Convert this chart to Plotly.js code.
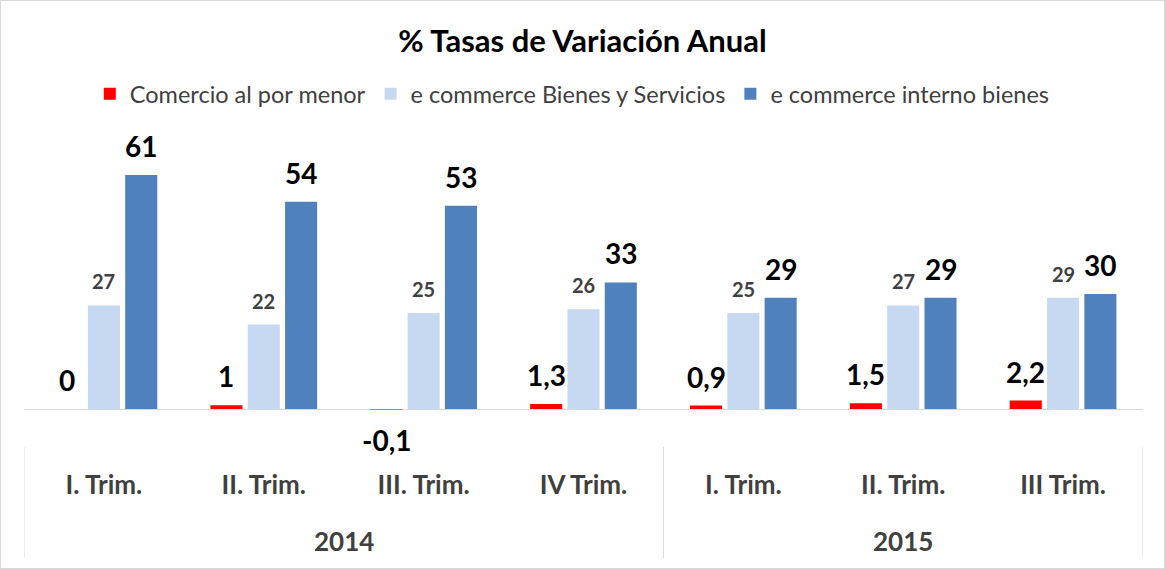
<!DOCTYPE html>
<html><head><meta charset="utf-8">
<script src="https://cdn.plot.ly/plotly-3.0.1.min.js"></script>
<style>html,body{margin:0;padding:0;background:#fff}#chart{width:1163px;height:567px;border:1px solid #d9d9d9}</style>
</head><body><div id="chart"></div>
<script>
const years = ['2014','2014','2014','2014','2015','2015','2015'];
const quarters = ['I. Trim.','II. Trim.','III. Trim.','IV Trim.','I. Trim.','II. Trim.','III Trim.'];
const comercio = [0, 1, -0.1, 1.3, 0.9, 1.5, 2.2];
const comercioLabels = ['0','1','-0,1','1,3','0,9','1,5','2,2'];
const ecomBS = [27, 22, 25, 26, 25, 27, 29];
const ecomInterno = [61, 54, 53, 33, 29, 29, 30];
const seriesNames = ['Comercio al por menor','e commerce Bienes y Servicios','e commerce interno bienes'];
const seriesColors = ['#FF0000', '#C6D9F1', '#4F81BD'];

const FONT = 'Lato, "Open Sans", sans-serif';
const idx = quarters.map((_, i) => i);
const bigLabel = {family: FONT, size: 28, color: '#000000', weight: 'bold'};
const smallLabel = {family: FONT, size: 20, color: '#404040', weight: 'bold'};
const BARGAP = 0.3;

// plot geometry (pixels) used to place the group labels and dividers below the axis
const H = 567, MT = 130, PLOT_BOTTOM = 420;
const plotH = PLOT_BOTTOM - MT;
const py = px => (PLOT_BOTTOM - px) / plotH;

// value labels, one annotation per bar, anchored on the bar end through the axes
const series = [
  {values: comercio, labels: comercioLabels, font: bigLabel},
  {values: ecomBS, labels: ecomBS.map(String), font: smallLabel},
  {values: ecomInterno, labels: ecomInterno.map(String), font: bigLabel}
];
const slot = (1 - BARGAP) / series.length;
const annotations = [];
series.forEach((s, k) => {
  s.values.forEach((v, i) => {
    annotations.push({
      xref:'x', yref:'y', x: i + (k - (series.length - 1) / 2) * slot, y: v,
      yanchor: v < 0 ? 'top' : 'bottom', yshift: v < 0 ? -12 : 10,
      text: s.labels[i], showarrow:false, font: s.font
    });
  });
});

// year groups: labels centered under their quarters, dividers at group edges
const groups = [];
years.forEach((y, i) => {
  const g = groups.find(g => g.year === y);
  if (g) g.idx.push(i); else groups.push({year: y, idx: [i]});
});
const shapes = [];
const dividerLine = xv => ({type:'line', xref:'x', yref:'paper', x0: xv, x1: xv,
  y0: py(446), y1: py(557), line:{color:'#d9d9d9', width:1}, layer:'above'});
shapes.push(dividerLine(groups[0].idx[0] - 0.5));
groups.forEach(g => {
  const mid = g.idx.reduce((a, b) => a + b, 0) / g.idx.length;
  annotations.push({xref:'x', yref:'paper', x: mid, y: py(540), yanchor:'middle',
    text: g.year, showarrow:false, font:{family: FONT, size: 26, color:'#404040', weight:'bold'}});
  shapes.push(dividerLine(g.idx[g.idx.length - 1] + 0.5));
});

const traces = series.map((s, k) => ({
  type:'bar', name: seriesNames[k], x: idx, y: s.values, cliponaxis:false,
  marker:{color: seriesColors[k]}
}));

const layout = {
  width: 1163, height: H,
  margin: {l: 23, r: 21, t: MT, b: H - PLOT_BOTTOM},
  paper_bgcolor:'#ffffff', plot_bgcolor:'#ffffff',
  title: {text:'% Tasas de Variación Anual', font:{family: FONT, size: 31, color:'#000000', weight:'bold'},
          x:0.5, xanchor:'center', yref:'container', y:1 - 40/567, yanchor:'middle'},
  showlegend: true,
  legend: {orientation:'h', x:0.49, xanchor:'center', y:py(93), yanchor:'middle',
           font:{family: FONT, size: 23.5, color:'#404040'}, traceorder:'normal'},
  barmode:'group', bargap: BARGAP, bargroupgap: 0.14,
  xaxis: {type:'linear', range:[-0.5, quarters.length - 0.5], tickvals: idx, ticktext: quarters,
          showgrid:false, showline:false, zeroline:false, ticks:'', ticklabelstandoff: 46,
          tickfont:{family: FONT, size: 26, color:'#404040', weight:'bold'}},
  yaxis: {range:[-(PLOT_BOTTOM - 408) / 3.836, (408 - MT) / 3.836], showticklabels:false, showgrid:false,
          zeroline:true, zerolinecolor:'#d9d9d9', zerolinewidth:1, showline:false, ticks:''},
  annotations: annotations,
  shapes: shapes
};

Plotly.newPlot('chart', traces, layout, {displayModeBar:false, staticPlot:true});
</script></body></html>
